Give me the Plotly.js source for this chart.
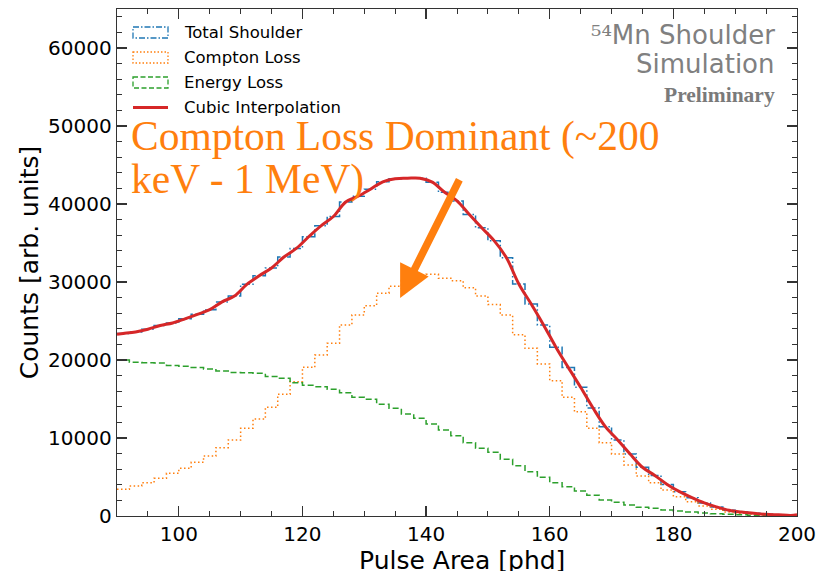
<!DOCTYPE html>
<html><head><meta charset="utf-8">
<script src="https://cdn.plot.ly/plotly-3.0.1.min.js"></script>
<style>html,body{margin:0;padding:0;background:#fff}#chart{width:819px;height:571px}</style>
</head><body><div id="chart"></div>
<script>
// ---- data ----
const binEdges = [90,92,94,96,98,100,102,104,106,108,110,112,114,116,118,120,122,124,126,128,130,
  132,134,136,138,140,142,144,146,148,150,152,154,156,158,160,162,164,166,168,170,
  172,174,176,178,180,182,184,186,188,190,192,194,196,198,200];
const totalShoulder = [23400,23600,23950,24420,24750,25280,25850,26450,27450,28200,
  29700,30800,31800,33200,34300,35800,37200,38400,40250,41000,
  41900,42850,43250,43300,43300,42800,41500,40400,38650,36950,
  35300,33100,29750,27180,24500,21650,19050,16500,13850,11450,
  9750,7950,6250,5200,4050,3120,2350,1670,1160,730,
  500,350,220,150,80];
const comptonLoss = [3420,3850,4270,4830,5470,6110,6880,7690,8760,9740,
  11240,12440,13930,15600,17220,19060,20640,22140,24490,25770,
  26960,28550,29450,30200,30800,30980,30470,30170,29250,28200,
  27100,25770,23250,21500,19500,17350,15210,13350,11240,9400,
  7950,6540,5130,4270,3330,2480,1840,1280,860,510,
  350,250,150,100,50];
const energyLoss = [20000,19700,19650,19600,19300,19200,19050,18850,18600,18400,
  18350,18300,17900,17650,17090,16750,16580,16240,15810,15210,
  14960,14320,13800,13080,12520,11800,11030,10300,9400,8680,
  8160,7260,6450,5680,4960,4270,3760,3210,2650,2050,
  1750,1410,1110,980,770,640,510,390,300,220,
  150,100,70,50,30];
const cubicEndX = [90, 200];
const cubicEndY = [23300, 150];
const seriesNames = ['Total Shoulder','Compton Loss','Energy Loss','Cubic Interpolation'];
const xTitle = 'Pulse Area [phd]';
const yTitle = 'Counts [arb. units]';

// ---- build traces ----
function stepY(v){ return v.concat([v[v.length-1]]); }
const centers = binEdges.slice(0,-1).map((e,i)=> (e+binEdges[i+1])/2);
const C_BLUE='#1f77b4', C_ORANGE='#ff7f0e', C_GREEN='#2ca02c', C_RED='#d62728';

const traces = [
  {x: binEdges, y: stepY(totalShoulder), mode:'lines', line:{shape:'hv', color:C_BLUE, width:1.5, dash:'8px,2.5px,1.5px,2.5px'}, name:seriesNames[0], showlegend:false},
  {x: binEdges, y: stepY(comptonLoss), mode:'lines', line:{shape:'hv', color:C_ORANGE, width:1.5, dash:'1.5px,2.5px'}, name:seriesNames[1], showlegend:false},
  {x: binEdges, y: stepY(energyLoss), mode:'lines', line:{shape:'hv', color:C_GREEN, width:1.5, dash:'6px,3px'}, name:seriesNames[2], showlegend:false},
  {x: [cubicEndX[0]].concat(centers, [cubicEndX[1]]), y: [cubicEndY[0]].concat(totalShoulder, [cubicEndY[1]]),
   mode:'lines', line:{shape:'spline', smoothing:1, color:C_RED, width:3}, name:seriesNames[3], showlegend:false}
];

// ---- layout helpers (pixel -> paper) ----
const W=819, H=571, ML=117, MR=22, MT=9, MB=55;
const PW=W-ML-MR, PH=H-MT-MB;
const px = p => (p-ML)/PW;
const py = p => (H-MB-p)/PH;

const shapes = [];
const annotations = [];
const legendStyles = [
  {color:C_BLUE, dash:'6px,2px,1.5px,2px'},
  {color:C_ORANGE, dash:'1.5px,2px'},
  {color:C_GREEN, dash:'5px,2.5px'}
];
const rowY = [32.5, 57.5, 82.5, 107.5];
for (let i=0;i<3;i++){
  shapes.push({type:'rect', xref:'paper', yref:'paper', x0:px(133), x1:px(168), y0:py(rowY[i]-5.5), y1:py(rowY[i]+5.5),
    line:{color:legendStyles[i].color, width:1.3, dash:legendStyles[i].dash}, fillcolor:'rgba(0,0,0,0)'});
}
shapes.push({type:'line', xref:'paper', yref:'paper', x0:px(133), x1:px(168), y0:py(rowY[3]), y1:py(rowY[3]),
  line:{color:C_RED, width:3}});
for (let i=0;i<4;i++){
  annotations.push({xref:'paper', yref:'paper', x:px(182), y:py(rowY[i]), xanchor:'left', yanchor:'middle',
    text:seriesNames[i], showarrow:false, font:{family:'DejaVu Sans', size:16.5, color:'#000'}});
}
// top-right label
annotations.push({xref:'paper', yref:'paper', x:px(777), y:py(35), xanchor:'right', yanchor:'middle', showarrow:false,
  text:'<span style="font-family:\'DejaVu Serif\'">\u2075\u2074</span>Mn Shoulder', font:{family:'DejaVu Sans', size:26, color:'#808080'}});
annotations.push({xref:'paper', yref:'paper', x:px(777), y:py(64), xanchor:'right', yanchor:'middle', showarrow:false,
  text:'Simulation', font:{family:'DejaVu Sans', size:26, color:'#808080'}});
annotations.push({xref:'paper', yref:'paper', x:px(777), y:py(95), xanchor:'right', yanchor:'middle', showarrow:false,
  text:'<b>Preliminary</b>', font:{family:'Liberation Serif', size:21.5, color:'#7a7a7a'}});
// orange callout
annotations.push({xref:'paper', yref:'paper', x:px(129), y:py(137), xanchor:'left', yanchor:'middle', showarrow:false,
  text:'Compton Loss Dominant (~200', font:{family:'Liberation Serif', size:41.5, color:C_ORANGE}});
annotations.push({xref:'paper', yref:'paper', x:px(129), y:py(179), xanchor:'left', yanchor:'middle', showarrow:false,
  text:'keV - 1 MeV)', font:{family:'Liberation Serif', size:41.5, color:C_ORANGE}});
// arrow
annotations.push({xref:'x', yref:'y', axref:'x', ayref:'y', x:135.8, y:27950, ax:145.5, ay:43300,
  text:'', showarrow:true, arrowhead:2, arrowsize:0.85, arrowwidth:7.5, arrowcolor:C_ORANGE});
// x axis title (placed as annotation so it can sit partly below the frame edge like the reference)
annotations.push({xref:'paper', yref:'paper', x:px(462), y:py(560), xanchor:'center', yanchor:'middle', showarrow:false,
  text:xTitle, font:{family:'DejaVu Sans', size:25, color:'#000'}});

const axCommon = {
  showline:true, linecolor:'#333', linewidth:1.3, mirror:'allticks',
  ticks:'inside', ticklen:10, tickwidth:1.2, tickcolor:'#333',
  showgrid:false, zeroline:false,
  tickfont:{family:'DejaVu Sans', size:20, color:'#000'}
};
const layout = {
  width:W, height:H, margin:{l:ML, r:MR, t:MT, b:MB},
  paper_bgcolor:'#fff', plot_bgcolor:'#fff', showlegend:false,
  xaxis: Object.assign({}, axCommon, {range:[90,200], dtick:20, tick0:0,
    minor:{dtick:5, ticks:'inside', ticklen:5, tickwidth:1, tickcolor:'#333', showgrid:false}}),
  yaxis: Object.assign({}, axCommon, {range:[0,65000], dtick:10000, tick0:0, tickformat:'d',
    minor:{dtick:2000, ticks:'inside', ticklen:5, tickwidth:1, tickcolor:'#333', showgrid:false},
    title:{text:yTitle, font:{family:'DejaVu Sans', size:25, color:'#000'}, standoff:2}}),
  shapes: shapes, annotations: annotations
};
Plotly.newPlot('chart', traces, layout, {staticPlot:true});
</script></body></html>
